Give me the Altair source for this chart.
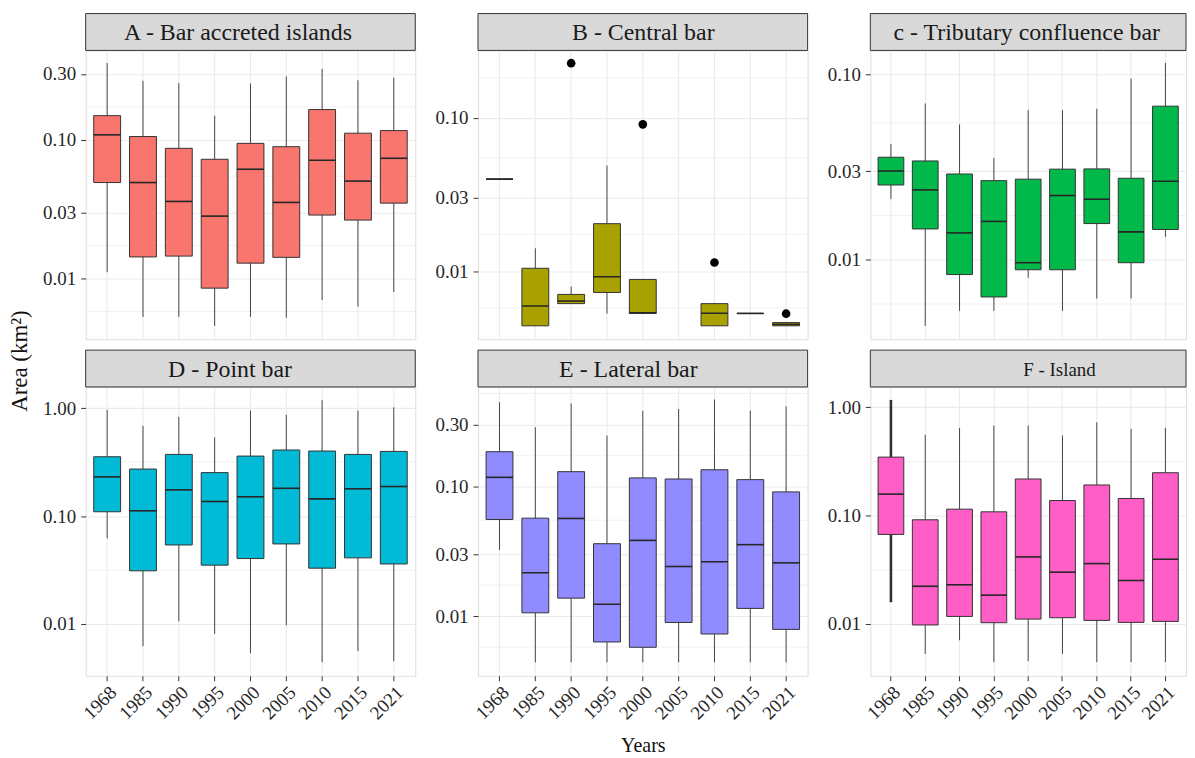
import altair as alt
import pandas as pd
import numpy as np

years = ["1968", "1985", "1990", "1995", "2000", "2005", "2010", "2015", "2021"]

# ---- Panel A : Bar accreted islands
A_low  = [0.0111, 0.00527, 0.00527, 0.00454, 0.00527, 0.0052, 0.00698, 0.00625, 0.00798]
A_q1   = [0.0493, 0.0143, 0.0145, 0.00851, 0.0129, 0.0142, 0.0287, 0.0264, 0.035]
A_med  = [0.109, 0.0493, 0.036, 0.0282, 0.0615, 0.0354, 0.0714, 0.0505, 0.0738]
A_q3   = [0.150, 0.106, 0.0871, 0.0726, 0.0946, 0.0895, 0.166, 0.112, 0.117]
A_high = [0.36, 0.268, 0.258, 0.150, 0.256, 0.288, 0.326, 0.270, 0.282]

# ---- Panel B : Central bar (no data in 2005)
B_low  = [0.0398, 0.0044, 0.00614, 0.00528, 0.0053, None, 0.0044, 0.0053, 0.0044]
B_q1   = [0.0398, 0.0044, 0.00614, 0.00726, 0.0053, None, 0.0044, 0.0053, 0.0044]
B_med  = [0.0398, 0.00593, 0.00638, 0.00919, 0.00535, None, 0.00531, 0.0053, 0.0045]
B_q3   = [0.0398, 0.01044, 0.00705, 0.0204, 0.00883, None, 0.00614, 0.0053, 0.00462]
B_high = [0.0398, 0.0141, 0.00794, 0.0488, 0.00883, None, 0.00614, 0.0053, 0.00462]
B_out_years = ["1990", "2000", "2010", "2021"]
B_out_vals  = [0.227, 0.0906, 0.01138, 0.00528]

# ---- Panel C : Tributary confluence bar
C_low  = [0.0213, 0.0044, 0.0053, 0.0053, 0.0080, 0.0053, 0.00618, 0.00618, 0.01327]
C_q1   = [0.0253, 0.01466, 0.00832, 0.0063, 0.00883, 0.00883, 0.01567, 0.00964, 0.01456]
C_med  = [0.0301, 0.0238, 0.01396, 0.0161, 0.00964, 0.0222, 0.0212, 0.01413, 0.0265]
C_q3   = [0.0357, 0.0341, 0.0290, 0.0267, 0.0272, 0.0308, 0.0309, 0.0275, 0.0673]
C_high = [0.0421, 0.0696, 0.0537, 0.0354, 0.0641, 0.0641, 0.0652, 0.0948, 0.115]

# ---- Panel D : Point bar
D_low  = [0.0622, 0.00622, 0.0106, 0.0081, 0.00536, 0.00972, 0.00443, 0.0056, 0.00452]
D_q1   = [0.1097, 0.0311, 0.054, 0.0351, 0.0404, 0.0552, 0.0329, 0.041, 0.036]
D_med  = [0.231, 0.112, 0.175, 0.1366, 0.151, 0.181, 0.1445, 0.179, 0.188]
D_q3   = [0.355, 0.273, 0.373, 0.253, 0.360, 0.410, 0.401, 0.373, 0.398]
D_high = [0.965, 0.687, 0.832, 0.536, 0.952, 0.868, 1.19, 0.952, 1.02]

# ---- Panel E : Lateral bar
E_low  = [0.0323, 0.0044, 0.0044, 0.0044, 0.0044, 0.0044, 0.0044, 0.0044, 0.0044]
E_q1   = [0.0555, 0.0106, 0.01375, 0.00632, 0.00575, 0.00893, 0.00728, 0.01146, 0.0079]
E_med  = [0.1172, 0.0216, 0.0565, 0.01235, 0.0383, 0.0241, 0.0262, 0.0355, 0.0257]
E_q3   = [0.1846, 0.0568, 0.1296, 0.0361, 0.116, 0.1138, 0.134, 0.1125, 0.0905]
E_high = [0.444, 0.285, 0.434, 0.246, 0.381, 0.394, 0.466, 0.383, 0.413]

# ---- Panel F : Island
F_low  = [0.0159, 0.0053, 0.00708, 0.00445, 0.00454, 0.0053, 0.00445, 0.00445, 0.00445]
F_q1   = [0.0671, 0.0098, 0.01175, 0.01028, 0.0111, 0.01143, 0.0108, 0.01035, 0.01057]
F_med  = [0.158, 0.0223, 0.0230, 0.01847, 0.0416, 0.0301, 0.0361, 0.0252, 0.0396]
F_q3   = [0.347, 0.0916, 0.1148, 0.1085, 0.218, 0.138, 0.192, 0.144, 0.249]
F_high = [1.17, 0.557, 0.646, 0.679, 0.679, 0.549, 0.728, 0.632, 0.646]

titles = {
    "A": "A - Bar accreted islands",
    "B": "B  - Central bar",
    "C": "c - Tributary confluence bar",
    "D": "D - Point bar",
    "E": "E - Lateral bar",
    "F": "F - Island",
}
colors = {"A": "#F8766D", "B": "#A9A100", "C": "#00B94A", "D": "#00BAD6",
          "E": "#908BFF", "F": "#FF5EC6"}
y_ticks = {
    "A": [0.01, 0.03, 0.1, 0.3],
    "B": [0.01, 0.03, 0.1],
    "C": [0.01, 0.03, 0.1],
    "D": [0.01, 0.1, 1.0],
    "E": [0.01, 0.03, 0.1, 0.3],
    "F": [0.01, 0.1, 1.0],
}
y_domains = {
    "A": [0.00364, 0.444],
    "B": [0.0036, 0.275],
    "C": [0.00373, 0.1345],
    "D": [0.00331, 1.574],
    "E": [0.00347, 0.582],
    "F": [0.00333, 1.54],
}

stats = {
    "A": (A_low, A_q1, A_med, A_q3, A_high),
    "B": (B_low, B_q1, B_med, B_q3, B_high),
    "C": (C_low, C_q1, C_med, C_q3, C_high),
    "D": (D_low, D_q1, D_med, D_q3, D_high),
    "E": (E_low, E_q1, E_med, E_q3, E_high),
    "F": (F_low, F_q1, F_med, F_q3, F_high),
}
outliers = {"B": (B_out_years, B_out_vals)}

FONT = "Liberation Serif"
GRID = "#EBEBEB"
DARK = "#333333"
PH = 290          # plot height
STRIP = 37        # strip height
widths = {"A": 331, "B": 331, "C": 317, "D": 331, "E": 331, "F": 317}
strip_sizes = {"A": 24, "B": 24, "C": 24, "D": 24, "E": 24, "F": 19}
strip_x = {"A": 153, "B": 166, "C": 157, "D": 145, "E": 151, "F": 190}


def minor_breaks(majors, domain):
    lm = np.log10(majors)
    mids = list((lm[:-1] + lm[1:]) / 2)
    mids.append(lm[0] - (lm[1] - lm[0]) / 2)
    mids.append(lm[-1] + (lm[-1] - lm[-2]) / 2)
    lo, hi = np.log10(domain)
    return [10 ** m for m in mids if lo < m < hi]


def panel(key, bottom):
    W = widths[key]
    low, q1, med, q3, high = stats[key]
    df = pd.DataFrame({"year": years, "low": low, "q1": q1, "med": med,
                       "q3": q3, "high": high}).dropna()
    step = W / (len(years) - 0.25 + 2 * 0.225)
    bw = step * 0.75

    xscale = alt.Scale(domain=years, paddingInner=0.25, paddingOuter=0.225)
    if bottom:
        xaxis = alt.Axis(labelAngle=315, labelFontSize=19, labelColor="#262626",
                         labelFont=FONT, tickColor=DARK, tickSize=5, tickWidth=1,
                         domain=False, grid=True, gridColor=GRID, gridWidth=1.1,
                         labelPadding=2,
                         title="Years" if key == "E" else None,
                         titleFontSize=20, titleFont=FONT, titleFontWeight="normal",
                         titleColor="#111111", titlePadding=13)
    else:
        xaxis = alt.Axis(labels=False, ticks=False, domain=False, grid=True,
                         gridColor=GRID, gridWidth=1.1, title=None)
    yscale = alt.Scale(type="log", domain=y_domains[key], nice=False, zero=False)
    yaxis = alt.Axis(values=y_ticks[key], format=".2f", labelFontSize=19,
                     labelColor="#262626", labelFont=FONT, tickColor=DARK,
                     tickSize=5, tickWidth=1, domain=False, grid=True,
                     gridColor=GRID, gridWidth=1.1, labelPadding=5, title=None)

    X = alt.X("year:N", scale=xscale, axis=xaxis)

    def Y(f):
        return alt.Y(f + ":Q", scale=yscale, axis=yaxis)

    base = alt.Chart(df)
    minor_df = pd.DataFrame({"v": minor_breaks(y_ticks[key], y_domains[key])})
    minor = alt.Chart(minor_df).mark_rule(color=GRID, strokeWidth=0.7).encode(y=Y("v"))

    if key == "F":
        sw = alt.condition(alt.datum.year == "1968", alt.value(2.6), alt.value(0.9))
    else:
        sw = alt.value(0.9)
    w_lo = base.mark_rule(color=DARK).encode(x=X, y=Y("low"), y2="q1", strokeWidth=sw)
    w_hi = base.mark_rule(color=DARK).encode(x=X, y=Y("q3"), y2="high", strokeWidth=sw)
    box = base.mark_bar(fill=colors[key], stroke=DARK, strokeWidth=1,
                        opacity=1).encode(x=X, y=Y("q1"), y2="q3")
    mid = base.mark_tick(color="#262626", thickness=1.6, size=bw,
                         opacity=1).encode(x=X, y=Y("med"))
    layers = [minor, w_lo, w_hi, box, mid]

    if key in outliers:
        oy, ov = outliers[key]
        odf = pd.DataFrame({"year": oy, "v": ov})
        layers.append(alt.Chart(odf).mark_circle(size=75, color="black",
                                                 opacity=1).encode(x=X, y=Y("v")))

    tdf = pd.DataFrame({"t": [titles[key]]})
    strip = alt.Chart(tdf).mark_rect(fill="#D9D9D9", stroke=DARK,
                                     strokeWidth=1).encode(
        x=alt.value(0), x2=alt.value(W), y=alt.value(-STRIP), y2=alt.value(0))
    stext = alt.Chart(tdf).mark_text(font=FONT, fontSize=strip_sizes[key],
                                     color="#1A1A1A", baseline="middle",
                                     align="center").encode(
        text="t:N", x=alt.value(strip_x[key]), y=alt.value(-STRIP / 2 + 1))
    layers += [strip, stext]

    if key == "A":
        ydf = pd.DataFrame({"t": ["Area (km²)"]})
        layers.append(alt.Chart(ydf).mark_text(font=FONT, fontSize=23, angle=270,
                                               color="#111111", baseline="middle",
                                               align="center").encode(
            text="t:N", x=alt.value(-66), y=alt.value(312)))

    return alt.layer(*layers).properties(width=W, height=PH)


chart = alt.concat(
    panel("A", False), panel("B", False), panel("C", False),
    panel("D", True), panel("E", True), panel("F", True),
    columns=3,
).properties(
    spacing={"row": 48, "column": 63},
    bounds="flush",
    align="each",
    padding={"left": 0, "top": 3, "right": 0, "bottom": 0},
).configure_view(
    stroke=DARK, strokeWidth=1
).configure(
    font=FONT
)

chart.save("out.html", embed_options={"renderer": "svg", "actions": False})
